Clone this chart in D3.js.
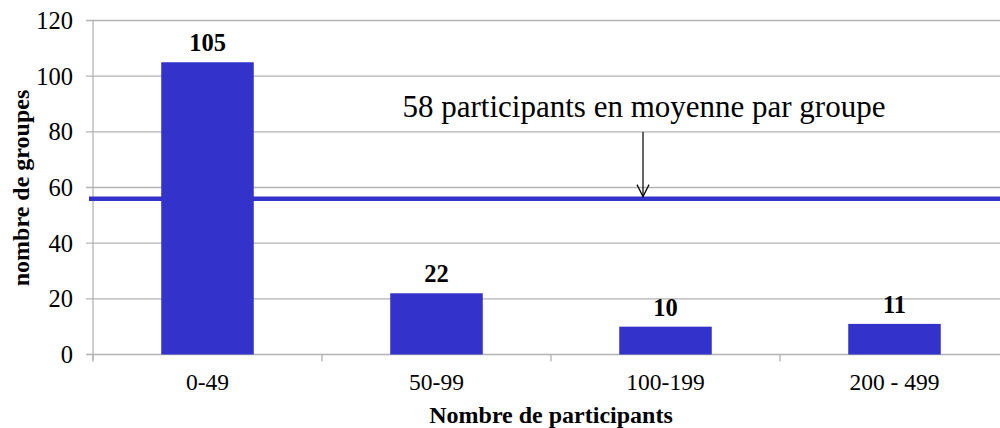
<!DOCTYPE html>
<html><head><meta charset="utf-8">
<script src="https://cdn.jsdelivr.net/npm/d3@7"></script>
<style>body{margin:0;background:#fff}svg{display:block}</style>
</head><body><div id="chart"></div>
<script>
const categories = ["0-49", "50-99", "100-199", "200 - 499"];
const values = [105, 22, 10, 11];
const yTicks = [0, 20, 40, 60, 80, 100, 120];
const averageLine = 56;
const annotationText = "58 participants en moyenne par groupe";
const xTitle = "Nombre de participants";
const yTitle = "nombre de groupes";

const FONT = "'Liberation Serif', 'Times New Roman', Times, serif";
const W = 1000, H = 428;
const svg = d3.select("#chart").append("svg").attr("width", W).attr("height", H)
  .attr("font-family", FONT);
const x = d3.scaleBand().domain(categories).range([93, 1009]).paddingInner(0.596).paddingOuter(0.298);
const y = d3.scaleLinear().domain([0, 120]).range([354.5, 20.5]);
const grid = "#b3b3b3";

svg.append("g").selectAll("line").data(yTicks).join("line")
  .attr("x1", 86).attr("x2", W).attr("y1", d => y(d)).attr("y2", d => y(d))
  .attr("stroke", grid).attr("stroke-width", 1.3);
svg.append("line").attr("x1", 93).attr("x2", 93).attr("y1", y(120)).attr("y2", y(0) + 6)
  .attr("stroke", grid).attr("stroke-width", 1.3);
svg.append("g").selectAll("text").data(yTicks).join("text")
  .attr("x", 73).attr("y", d => y(d)).attr("dy", "0.35em").attr("text-anchor", "end")
  .attr("font-family", FONT).attr("font-size", 24.5).text(d => d);
const bounds = d3.range(categories.length + 1).map(i => x.range()[0] + i * x.step());
svg.append("g").selectAll("line").data(bounds).join("line")
  .attr("x1", d => d).attr("x2", d => d).attr("y1", y(0)).attr("y2", y(0) + 7)
  .attr("stroke", grid).attr("stroke-width", 1.3);
svg.append("g").selectAll("rect").data(values).join("rect")
  .attr("x", (d, i) => x(categories[i])).attr("width", x.bandwidth())
  .attr("y", d => y(d)).attr("height", d => y(0) - y(d))
  .attr("fill", "#3333cc");
svg.append("g").selectAll("text").data(values).join("text")
  .attr("x", (d, i) => x(categories[i]) + x.bandwidth() / 2).attr("y", d => y(d) - 11)
  .attr("text-anchor", "middle").attr("font-family", FONT).attr("font-size", 24.5).attr("font-weight", "bold").text(d => d);
svg.append("g").selectAll("text").data(categories).join("text")
  .attr("x", d => x(d) + x.bandwidth() / 2).attr("y", 390)
  .attr("text-anchor", "middle").attr("font-family", FONT).attr("font-size", 23.5).text(d => d);
svg.append("line").attr("x1", 89).attr("x2", W).attr("y1", y(averageLine)).attr("y2", y(averageLine))
  .attr("stroke", "#3333cc").attr("stroke-width", 4.5);
svg.append("text").attr("x", 644).attr("y", 117).attr("text-anchor", "middle")
  .attr("font-family", FONT).attr("font-size", 31).text(annotationText);
const ax = 643;
svg.append("line").attr("x1", ax).attr("x2", ax).attr("y1", 132).attr("y2", y(averageLine) - 2)
  .attr("stroke", "#000").attr("stroke-width", 1.2);
svg.append("path").attr("d", `M${ax - 6},${y(averageLine) - 14}L${ax},${y(averageLine) - 2}L${ax + 6},${y(averageLine) - 14}`)
  .attr("fill", "none").attr("stroke", "#000").attr("stroke-width", 1.2);
svg.append("text").attr("x", 551).attr("y", 423).attr("text-anchor", "middle")
  .attr("font-family", FONT).attr("font-size", 24).attr("font-weight", "bold").text(xTitle);
svg.append("text").attr("transform", "translate(29,188) rotate(-90)").attr("text-anchor", "middle")
  .attr("font-family", FONT).attr("font-size", 24).attr("font-weight", "bold").text(yTitle);
</script></body></html>
